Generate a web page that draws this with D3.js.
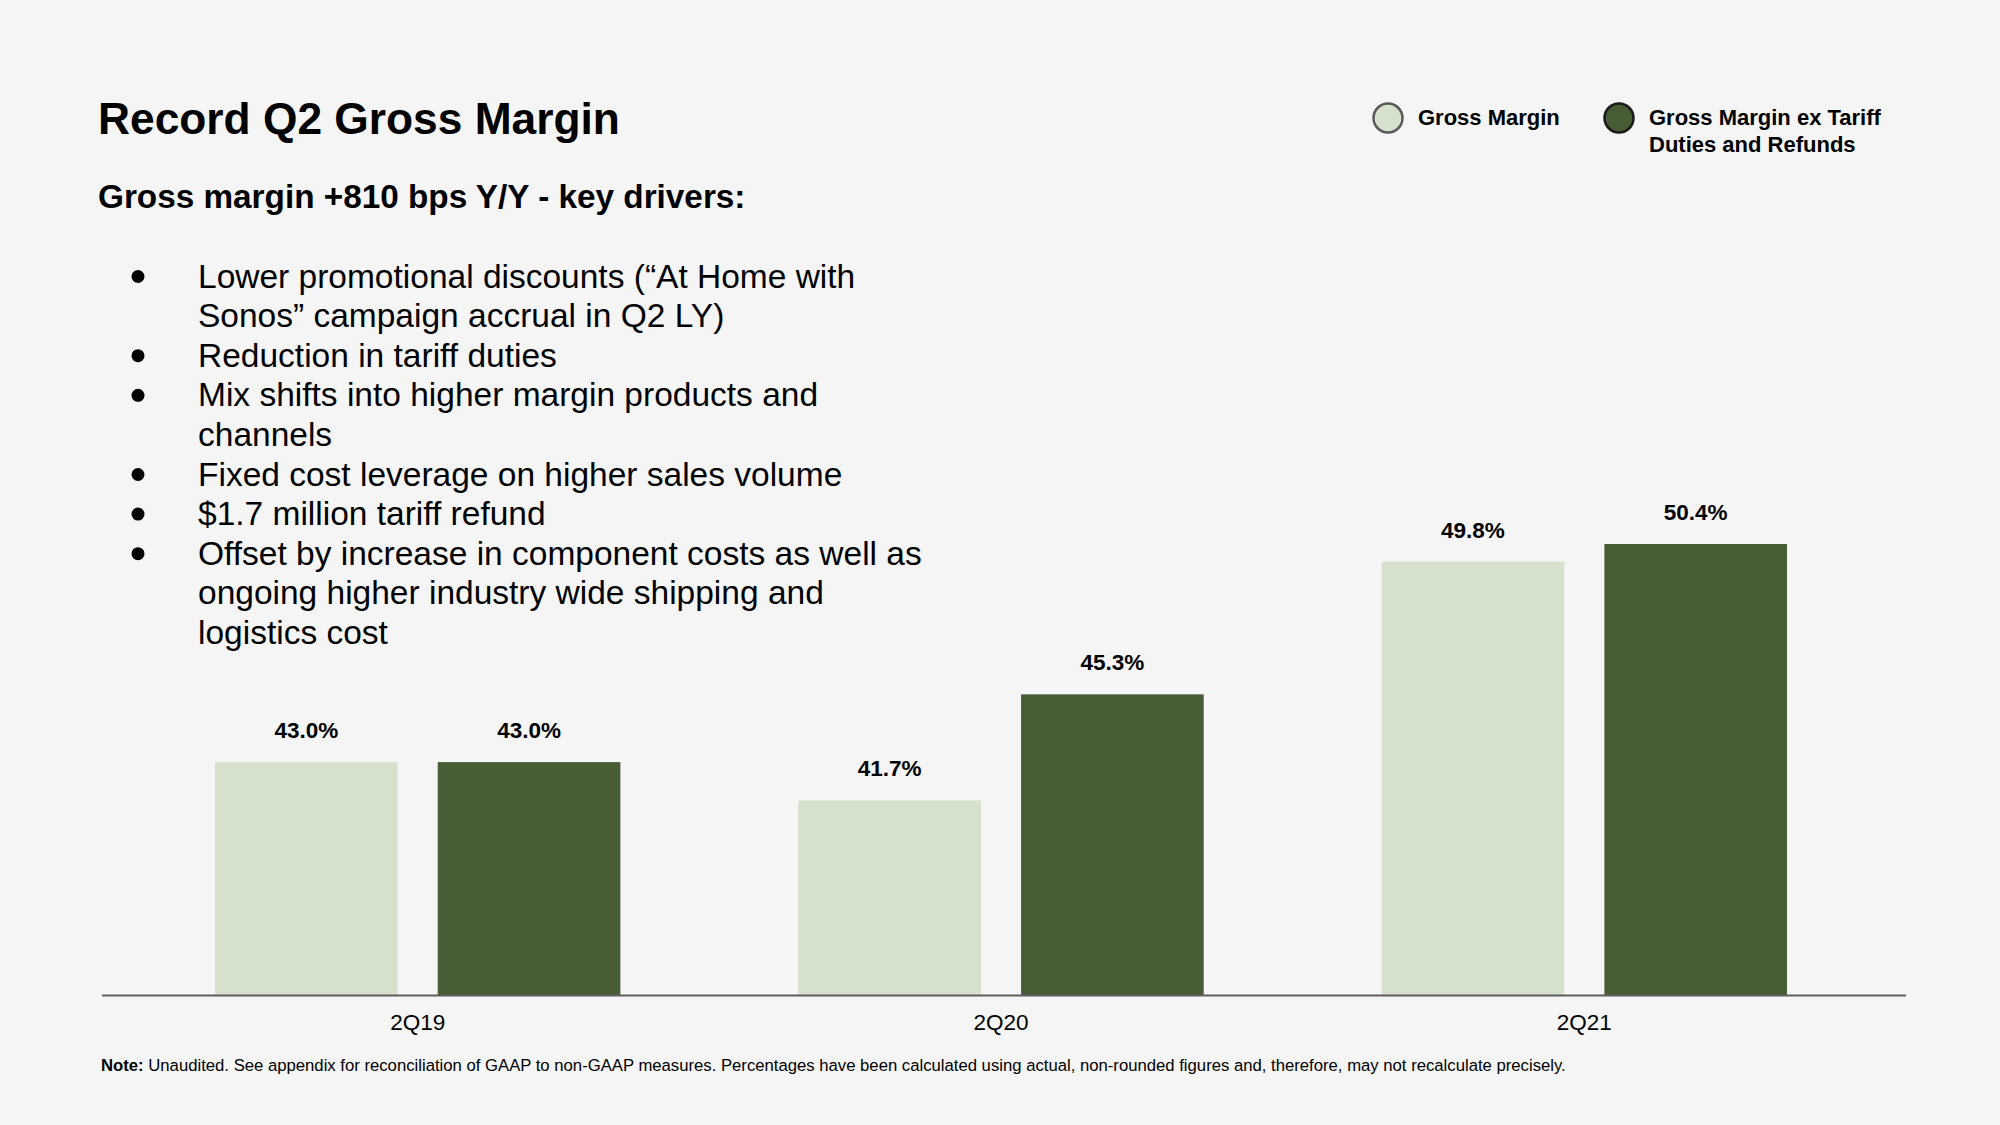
<!DOCTYPE html>
<html>
<head>
<meta charset="utf-8">
<script src="https://cdn.jsdelivr.net/npm/d3@7"></script>
<style>
  html, body { margin: 0; padding: 0; background: #f5f5f5; }
  svg { display: block; }
  text { font-family: "Liberation Sans", Arial, Helvetica, sans-serif; fill: #000; }
</style>
</head>
<body>
<svg id="chart" width="2000" height="1125"></svg>
<script>
// ---------- data ----------
const categories = ["2Q19", "2Q20", "2Q21"];
const seriesKeys = ["gm", "gmEx"];
const seriesLegend = [["Gross Margin"], ["Gross Margin ex Tariff", "Duties and Refunds"]];
const grossMargin = [43.0, 41.7, 49.8];
const grossMarginExTariff = [43.0, 45.3, 50.4];
const seriesColors = ["#d6e1cc", "#475d35"];
const legendStrokes = ["#5a5a5a", "#1a1a1a"];

const titleText = "Record Q2 Gross Margin";
const subtitleText = "Gross margin +810 bps Y/Y - key drivers:";
const bullets = [
  ["Lower promotional discounts (\u201CAt Home with", "Sonos\u201D campaign accrual in Q2 LY)"],
  ["Reduction in tariff duties"],
  ["Mix shifts into higher margin products and", "channels"],
  ["Fixed cost leverage on higher sales volume"],
  ["$1.7 million tariff refund"],
  ["Offset by increase in component costs as well as", "ongoing higher industry wide shipping and", "logistics cost"]
];
const noteBold = "Note:";
const noteText = " Unaudited. See appendix for reconciliation of GAAP to non-GAAP measures. Percentages have been calculated using actual, non-rounded figures and, therefore, may not recalculate precisely.";

const table = categories.map((c, i) => ({ cat: c, gm: grossMargin[i], gmEx: grossMarginExTariff[i] }));

// ---------- layout ----------
const svg = d3.select("#chart");
svg.append("rect").attr("width", 2000).attr("height", 1125).attr("fill", "#f5f5f5");

const baseY = 995;
const x0 = d3.scaleBand().domain(categories).range([126, 1876]).paddingInner(0.305).paddingOuter(0.1525);
const x1 = d3.scaleBand().domain(seriesKeys).range([0, x0.bandwidth()]).paddingInner(0.18);
const y = d3.scaleLinear().domain([35.1, 50.4]).range([baseY, 544]);
const fmt = v => d3.format(".1f")(v) + "%";

// title & subtitle
svg.append("text").attr("x", 98).attr("y", 134).attr("font-size", 44.3).attr("font-weight", "bold").text(titleText);
svg.append("text").attr("x", 98).attr("y", 208).attr("font-size", 33.3).attr("font-weight", "bold").text(subtitleText);

// bullets
let lineIdx = 0;
const lineH = 39.6, firstBase = 287.5;
bullets.forEach(item => {
  const by = firstBase + lineIdx * lineH;
  svg.append("circle").attr("cx", 138).attr("cy", by - 11).attr("r", 6.5).attr("fill", "#000");
  item.forEach((ln, j) => {
    svg.append("text").attr("x", 198).attr("y", firstBase + (lineIdx + j) * lineH)
      .attr("font-size", 33.5).text(ln);
  });
  lineIdx += item.length;
});

// bars
const groups = svg.append("g").selectAll("g").data(table).join("g")
  .attr("transform", d => `translate(${x0(d.cat)},0)`);
groups.selectAll("rect").data(d => seriesKeys.map((k, i) => ({ key: k, value: d[k], i })))
  .join("rect")
  .attr("x", d => x1(d.key))
  .attr("y", d => y(d.value))
  .attr("width", x1.bandwidth())
  .attr("height", d => baseY - y(d.value))
  .attr("fill", d => seriesColors[d.i]);
groups.selectAll("text.val").data(d => seriesKeys.map((k, i) => ({ key: k, value: d[k], i })))
  .join("text").attr("class", "val")
  .attr("x", d => x1(d.key) + x1.bandwidth() / 2)
  .attr("y", d => y(d.value) - 24)
  .attr("text-anchor", "middle")
  .attr("font-size", 22.5).attr("font-weight", "bold")
  .text(d => fmt(d.value));

// axis
const axis = svg.append("g").attr("transform", `translate(0,${baseY})`)
  .call(d3.axisBottom(x0).tickSize(0).tickPadding(19));
axis.select(".domain").remove();
axis.selectAll("text").attr("font-size", 22.5).attr("fill", "#111")
  .style("font-family", "\"Liberation Sans\", Arial, sans-serif");
svg.append("line").attr("x1", 102).attr("x2", 1906).attr("y1", baseY + 0.5).attr("y2", baseY + 0.5)
  .attr("stroke", "#5f5f5f").attr("stroke-width", 2);

// legend
const legendX = [1388, 1619];
const legend = svg.append("g").selectAll("g").data(seriesLegend).join("g")
  .attr("transform", (d, i) => `translate(${legendX[i]},118)`);
legend.append("circle").attr("r", 14.5)
  .attr("fill", (d, i) => seriesColors[i])
  .attr("stroke", (d, i) => legendStrokes[i]).attr("stroke-width", 2.5);
legend.each(function (lines) {
  const g = d3.select(this);
  lines.forEach((ln, j) => {
    g.append("text").attr("x", 30).attr("y", 7 + j * 27)
      .attr("font-size", 22).attr("font-weight", "bold").text(ln);
  });
});

// note
const note = svg.append("text").attr("x", 101).attr("y", 1071).attr("font-size", 16.7);
note.append("tspan").attr("font-weight", "bold").text(noteBold);
note.append("tspan").text(noteText);
</script>
</body>
</html>
